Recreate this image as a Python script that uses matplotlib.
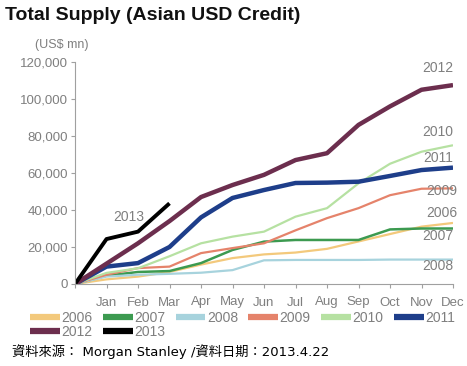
import matplotlib
matplotlib.use("Agg")
import matplotlib.pyplot as plt

months = ["", "Jan", "Feb", "Mar", "Apr", "May", "Jun", "Jul", "Aug", "Sep", "Oct", "Nov", "Dec"]
y_ticks = [0, 20000, 40000, 60000, 80000, 100000, 120000]

s2006 = [0, 2500, 4000, 6500, 10500, 14000, 16000, 17000, 19000, 23000, 27000, 31000, 33000]
s2007 = [0, 4500, 6500, 7000, 11300, 18400, 22900, 23800, 23800, 23800, 29500, 30000, 30000]
s2008 = [0, 4000, 5000, 5500, 6100, 7500, 12800, 13000, 13000, 13000, 13200, 13200, 13200]
s2009 = [0, 5000, 8600, 9400, 16700, 19400, 22000, 29000, 35600, 41000, 48000, 51500, 51700]
s2010 = [0, 6000, 8500, 15000, 22000, 25600, 28300, 36400, 41000, 54400, 65000, 71500, 75000]
s2011 = [0, 9400, 11300, 20000, 36000, 46500, 50800, 54600, 54800, 55300, 58400, 61600, 62900]
s2012 = [0, 11000, 22000, 34000, 47000, 53500, 59000, 67000, 70700, 86000, 96000, 105000, 107500]
s2013 = [0, 24300, 28300, 43600]

series = [
    ("2006", s2006, "#F3C97C", 1.6),
    ("2007", s2007, "#3C9A50", 1.8),
    ("2008", s2008, "#A7D3DD", 1.6),
    ("2009", s2009, "#E5836B", 1.6),
    ("2010", s2010, "#B6E1A2", 1.6),
    ("2011", s2011, "#1E3E8A", 3.2),
    ("2012", s2012, "#6C2E4E", 3.2),
    ("2013", s2013, "#000000", 2.8),
]

labels = [
    ("2012", 12.0, 116800, "right"),
    ("2010", 12.0, 82300, "right"),
    ("2011", 12.0, 68000, "right"),
    ("2009", 12.15, 50300, "right"),
    ("2006", 12.15, 38500, "right"),
    ("2007", 12.0, 26000, "right"),
    ("2008", 12.0, 9900, "right"),
    ("2013", 1.71, 36400, "center"),
]

narrow = ["Liberation Sans", "DejaVu Sans"]
gray = "#7F7F7F"

fig = plt.figure(figsize=(4.67, 3.66), dpi=100)
ax = fig.add_axes([75 / 467, 82 / 366, (453 - 75) / 467, (284 - 62) / 366])

lines = {}
for name, vals, col, lw in series:
    ln, = ax.plot(range(len(vals)), vals, color=col, lw=lw, label=name,
                  solid_capstyle="butt", solid_joinstyle="round")
    lines[name] = ln

for txt, x, y, ha in labels:
    ax.text(x, y, txt, ha=ha, va="center", color=gray, fontsize=10, family=narrow)

ax.set_xlim(0, 12)
ax.set_ylim(0, 120000)
ax.set_xticks(range(13))
ax.set_xticklabels(months, family=narrow, fontsize=9.5, color=gray)
ax.set_yticks(y_ticks)
ax.set_yticklabels([f"{v:,}" for v in y_ticks], family=narrow, fontsize=9.5, color=gray)
for sp in ["top", "right"]:
    ax.spines[sp].set_visible(False)
for sp in ["left", "bottom"]:
    ax.spines[sp].set_color("#A0A0A0")
    ax.spines[sp].set_linewidth(0.8)
ax.tick_params(axis="both", colors="#A0A0A0", length=3, width=0.8, labelcolor=gray)
ax.tick_params(axis="x", pad=6)
ax.tick_params(axis="y", pad=2)

fig.text(5 / 467, 1 - 15 / 366, "Total Supply (Asian USD Credit)", ha="left", va="center",
         fontsize=14, fontweight="bold", family=narrow, color="#111111")
fig.text(62 / 467, 1 - 45 / 366, "(US$ mn)", ha="center", va="center",
         fontsize=9, family=narrow, color=gray)

order = ["2006", "2012", "2007", "2013", "2008", "2009", "2010", "2011"]
leg = fig.legend([lines[k] for k in order], order, loc="upper left",
                 bbox_to_anchor=(30 / 467, 1 - 311 / 366),
                 ncol=6, frameon=False, handlelength=2.15, handletextpad=0.1,
                 columnspacing=0.75, labelspacing=0.0, borderpad=0, borderaxespad=0,
                 prop={"family": narrow, "size": 10})
for t in leg.get_texts():
    t.set_color(gray)
for l in leg.get_lines():
    l.set_linewidth(4.5)

fig.text(12 / 467, 1 - 352 / 366, "資料來源： Morgan Stanley /資料日期：2013.4.22", ha="left",
         va="center", fontsize=9.5, family=["DejaVu Sans", "Noto Sans CJK TC"], color="black")

fig.savefig("out.png", dpi=100)
